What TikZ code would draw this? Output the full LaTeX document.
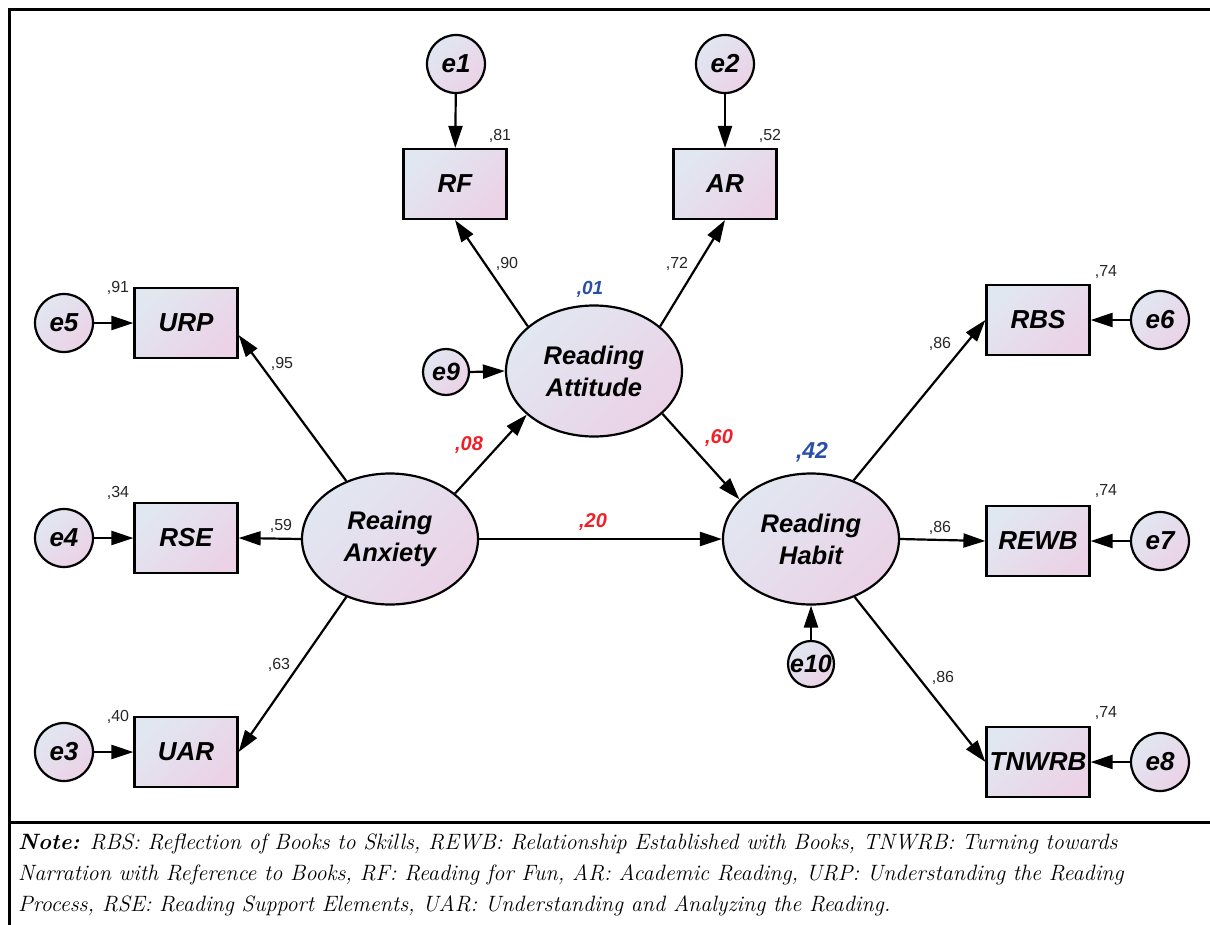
\documentclass[tikz,border=0pt]{standalone}
\usepackage{fontspec}
\setmainfont{Liberation Sans}
\newfontfamily\notefont{Latin Modern Roman}
\usetikzlibrary{arrows.meta,shapes.geometric,calc}
\definecolor{gA}{HTML}{E1E7F1}
\definecolor{gB}{HTML}{EBD2E6}
\definecolor{numblue}{HTML}{2B4FA8}
\definecolor{numred}{HTML}{F0202A}
\begin{document}
\begin{tikzpicture}[x=1pt,y=-1pt,
  shade/.style={top color=gA, bottom color=gB, shading angle=45},
  obsbox/.style={rectangle, draw, line width=2.2pt, shade, minimum width=103pt, minimum height=70pt, inner sep=0pt,
    font=\fontsize{26}{30}\selectfont\bfseries\itshape},
  latent/.style={ellipse, draw, line width=2.2pt, shade, minimum width=176pt, minimum height=131pt, inner sep=0pt, align=center,
    font=\fontsize{25.5}{32}\selectfont\bfseries\itshape},
  errc/.style={circle, draw, line width=2.2pt, shade, minimum size=58pt, inner sep=0pt,
    font=\fontsize{26}{28}\selectfont\bfseries\itshape},
  errs/.style={circle, draw, line width=2.2pt, shade, minimum size=46pt, inner sep=0pt,
    font=\fontsize{25}{28}\selectfont\bfseries\itshape},
  arr/.style={-{Triangle[length=22pt,width=14pt]}, line width=2.2pt},
  wt/.style={inner sep=0pt, font=\fontsize{16}{18}\selectfont, text=black!85},
  redn/.style={inner sep=0pt, font=\fontsize{20}{22}\selectfont\bfseries\itshape, text=numred},
  bluen/.style={inner sep=0pt, font=\fontsize{19}{21}\selectfont\bfseries\itshape, text=numblue}
]
\useasboundingbox (0,0) rectangle (1210,924);
\draw[line width=3pt] (9,9) rectangle (1214,930);
\draw[line width=3pt] (9,822) -- (1214,822);

% nodes
\node[errc] (e1) at (456,64) {e1};
\node[errc] (e2) at (725,64) {e2};
\node[obsbox] (RF) at (455,184) {RF};
\node[obsbox] (AR) at (725,184) {AR};
\node[latent] (RA) at (594,371) {Reading\\Attitude};
\node[errs] (e9) at (446,372) {e9};
\node[latent] (AX) at (390,539) {Reaing\\Anxiety};
\node[latent] (RH) at (811,539) {Reading\\Habit};
\node[errs] (e10) at (811,664) {e10};
\node[obsbox] (URP) at (186,323) {URP};
\node[errc] (e5) at (64,323) {e5};
\node[obsbox] (RSE) at (186,538) {RSE};
\node[errc] (e4) at (64,538) {e4};
\node[obsbox] (UAR) at (186,752) {UAR};
\node[errc] (e3) at (64,752) {e3};
\node[obsbox] (RBS) at (1038,320) {RBS};
\node[errc] (e6) at (1160,320) {e6};
\node[obsbox] (REWB) at (1038,541) {REWB};
\node[errc] (e7) at (1160,541) {e7};
\node[obsbox] (TNWRB) at (1038,762) {TNWRB};
\node[errc] (e8) at (1160,762) {e8};

% error arrows
\draw[arr] (e1) -- (RF);
\draw[arr] (e2) -- (AR);
\draw[arr] (e9.east) -- (RA.west);
\draw[arr] (e10.north) -- (RH.south);
\draw[arr] (e5) -- (URP);
\draw[arr] (e4) -- (RSE);
\draw[arr] (e3) -- (UAR);
\draw[arr] (e6) -- (RBS);
\draw[arr] (e7) -- (REWB);
\draw[arr] (e8) -- (TNWRB);

% structural arrows
\draw[arr] (RA.146) -- (RF.south);
\draw[arr] (RA.34) -- (AR.south);
\draw[arr] (AX.127) -- ($(URP.east)+(0,12)$);
\draw[arr] (AX.west) -- (RSE.east);
\draw[arr] (AX.233) -- (UAR.east);
\draw[arr] (AX.35) -- (RA.213);
\draw[arr] (RA.-32) -- (RH.151);
\draw[arr] (AX.east) -- (RH.west);
\draw[arr] (RH.54) -- (RBS.west);
\draw[arr] (RH.east) -- (REWB.west);
\draw[arr] (RH.-53) -- (TNWRB.west);

% labels
\node[wt] (l81) at (500,136) {,81};
\node[wt] (l52) at (770,136) {,52};
\node[wt] (l90) at (507,264) {,90};
\node[wt] (l72) at (677,264) {,72};
\node[wt] (l91) at (118,288) {,91};
\node[wt] (l95) at (282,364) {,95};
\node[wt] (l34) at (118,493) {,34};
\node[wt] (l59) at (281,526) {,59};
\node[wt] (l63) at (279,665) {,63};
\node[wt] (l40) at (118,717) {,40};
\node[wt] (l74a) at (1106,272) {,74};
\node[wt] (l86a) at (940,344) {,86};
\node[wt] (l74b) at (1106,491) {,74};
\node[wt] (l86b) at (940,528) {,86};
\node[wt] (l86c) at (943,678) {,86};
\node[wt] (l74c) at (1106,713) {,74};
\node[bluen] (l01) at (590,289) {,01};
\node[bluen, font=\fontsize{23}{25}\selectfont\bfseries\itshape] (l42) at (812,452) {,42};
\node[redn] (l08) at (469,445) {,08};
\node[redn] (l60) at (719,438) {,60};
\node[redn] (l20) at (593,522) {,20};

% note
\node[anchor=north west, inner sep=0pt, align=left, font=\notefont\itshape\fontsize{22.2}{31}\selectfont] (note) at (18,834)
{\textbf{Note:} RBS: Reflection of Books to Skills, REWB: Relationship Established with Books, TNWRB: Turning towards\\
Narration with Reference to Books, RF: Reading for Fun, AR: Academic Reading, URP: Understanding the Reading\\
Process, RSE: Reading Support Elements, UAR: Understanding and Analyzing the Reading.};
\end{tikzpicture}
\end{document}
